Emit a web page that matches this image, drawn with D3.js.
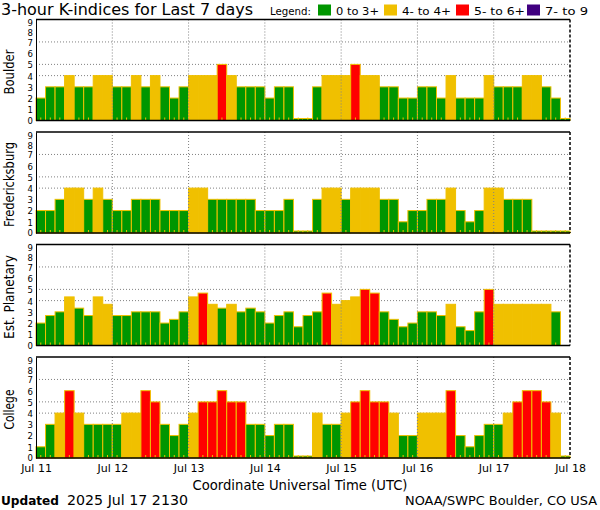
<!DOCTYPE html>
<html>
<head>
<meta charset="utf-8">
<script src="https://cdn.jsdelivr.net/npm/d3@7"></script>
<style>
  body { margin: 0; background: #fff; }
  svg { display: block; }
  text { font-family: 'DejaVu Sans', sans-serif; fill: #000; }
</style>
</head>
<body>
<div id="chart"></div>
<script>
const stations = ['Boulder', 'Fredericksburg', 'Est. Planetary', 'College'];

// K values, 8 per day, Jul 11 00 UTC .. Jul 17 21 UTC (null = no data)
const boulder = [
  2, 3, 3, 4, 3, 3, 4, 4,
  3, 3, 4, 3, 4, 3, 2, 3,
  4, 4, 4, 5, 4, 3, 3, 3,
  2, 3, 3, 0, 0, 3, 4, 4,
  4, 5, 4, 4, 3, 3, 2, 2,
  3, 3, 2, 4, 2, 2, 2, 4,
  3, 3, 3, 4, 4, 3, 2, 0,
];
const fredericksburg = [
  2, 2, 3, 4, 4, 3, 4, 3,
  2, 2, 3, 3, 3, 2, 2, 2,
  4, 4, 3, 3, 3, 3, 3, 2,
  2, 2, 3, 0, 0, 3, 4, 4,
  3, 4, 4, 4, 3, 3, 1, 2,
  2, 3, 3, 4, 2, 1, 2, 4,
  4, 3, 3, 3, 0, 0, 0, 0,
];
const planetary = [
  2, 2.67, 3, 4.33, 3.33, 2.67, 4.33, 3.67,
  2.67, 2.67, 3, 3, 3, 2, 2.33, 3,
  4.33, 4.67, 3.67, 3.33, 3.67, 3, 3.33, 3,
  2, 2.67, 3, 1.67, 2.67, 3, 4.67, 3.67,
  4, 4.33, 5, 4.67, 3, 2.33, 1.67, 2,
  3, 3, 2.67, 3.67, 1.67, 1.33, 3, 5,
  3.67, 3.67, 3.67, 3.67, 3.67, 3.67, 3, null,
];
const college = [
  1, 3, 4, 6, 4, 3, 3, 3,
  3, 4, 4, 6, 5, 3, 2, 3,
  4, 5, 5, 6, 5, 5, 3, 3,
  2, 3, 3, 0, 0, 4, 3, 3,
  4, 5, 6, 5, 5, 4, 2, 2,
  4, 4, 4, 6, 2, 1, 2, 3,
  3, 4, 5, 6, 6, 5, 4, 0,
];
const series = [boulder, fredericksburg, planetary, college];

const dayLabels = ['Jul 11', 'Jul 12', 'Jul 13', 'Jul 14', 'Jul 15', 'Jul 16', 'Jul 17', 'Jul 18'];
const kTicks = [0, 1, 2, 3, 4, 5, 6, 7, 8, 9];
const kGrid = [4, 5, 7];
const legendLabels = ['0 to 3+', '4- to 4+', '5- to 6+', '7- to 9'];
const legendColors = ['#009600', '#f0c000', '#ff0000', '#400080'];

const WIDTH = 600;
const HEIGHT = 510;
const LEFT = 36;
const RIGHT = 570;
const PANEL_TOP = 19.5;
const PANEL_STEP = 112.5;
const PANEL_H = 101;
const BAR_EDGE = '#f0c000';

const start = new Date(Date.UTC(2025, 6, 11));
const end = new Date(Date.UTC(2025, 6, 18));
const days = d3.utcDay.range(start, d3.utcDay.offset(end, 1));

const xScale = d3.scaleUtc().domain([start, end]).range([LEFT, RIGHT]);
const colorScale = d3.scaleThreshold().domain([3.5, 4.5, 6.5]).range(legendColors);

const svg = d3.create('svg').attr('width', WIDTH).attr('height', HEIGHT);

// title + legend
svg.append('text')
  .attr('x', 1).attr('y', 14.5)
  .attr('font-size', 15.5)
  .attr('textLength', 252).attr('lengthAdjust', 'spacingAndGlyphs')
  .text('3-hour K-indices for Last 7 days');

svg.append('text')
  .attr('x', 270).attr('y', 15)
  .attr('font-size', 11)
  .attr('textLength', 41).attr('lengthAdjust', 'spacingAndGlyphs')
  .text('Legend:');

const legendBoxX = [318, 384, 456, 527];
const legendTextW = [43, 49, 51, 43];
legendLabels.forEach((label, i) => {
  svg.append('rect')
    .attr('x', legendBoxX[i]).attr('y', 4.5)
    .attr('width', 13).attr('height', 11)
    .attr('fill', legendColors[i]);
  svg.append('text')
    .attr('x', legendBoxX[i] + 18).attr('y', 15)
    .attr('font-size', 11)
    .attr('textLength', legendTextW[i]).attr('lengthAdjust', 'spacingAndGlyphs')
    .text(label);
});

const labelLen = [45, 85, 84, 40];
const tickDy = (d) => (d === 9 ? '0.72em' : d === 8 ? '0.58em' : d === 0 ? '0.3em' : '0.4em');

series.forEach((values, p) => {
  const top = PANEL_TOP + p * PANEL_STEP;
  const bottom = top + PANEL_H;
  const yScale = d3.scaleLinear().domain([0, 9]).range([bottom, top]);
  const g = svg.append('g');

  // horizontal dotted grid (behind bars)
  g.selectAll('line.hgrid')
    .data(kGrid)
    .join('line')
    .attr('x1', LEFT).attr('x2', RIGHT)
    .attr('y1', (d) => yScale(d)).attr('y2', (d) => yScale(d))
    .attr('stroke', '#808080').attr('stroke-width', 1)
    .attr('stroke-dasharray', '1 2');

  const bars = values
    .map((v, i) => ({ v, t: d3.utcHour.offset(start, i * 3) }))
    .filter((d) => d.v !== null);

  g.selectAll('rect.bar')
    .data(bars)
    .join('rect')
    .attr('class', 'bar')
    .attr('x', (d) => xScale(d.t))
    .attr('width', (d) => xScale(d3.utcHour.offset(d.t, 3)) - xScale(d.t))
    .attr('y', (d) => Math.min(yScale(d.v), bottom - 2))
    .attr('height', (d) => Math.max(bottom - yScale(d.v), 2))
    .attr('fill', (d) => colorScale(d.v))
    .attr('stroke', BAR_EDGE).attr('stroke-width', 1);

  // little marks at the foot of each bar
  g.selectAll('line.mark')
    .data(bars)
    .join('line')
    .attr('x1', (d) => xScale(d3.utcMinute.offset(d.t, 90)))
    .attr('x2', (d) => xScale(d3.utcMinute.offset(d.t, 90)))
    .attr('y1', bottom).attr('y2', bottom - 3)
    .attr('stroke', BAR_EDGE).attr('stroke-width', 1);

  // vertical dotted day lines (over bars)
  g.selectAll('line.vgrid')
    .data(days.slice(1, -1))
    .join('line')
    .attr('x1', (d) => xScale(d)).attr('x2', (d) => xScale(d))
    .attr('y1', top).attr('y2', bottom)
    .attr('stroke', '#808080').attr('stroke-width', 1)
    .attr('stroke-dasharray', '1 2');

  // frame
  g.append('line')
    .attr('x1', LEFT).attr('x2', RIGHT).attr('y1', top).attr('y2', top)
    .attr('stroke', '#000').attr('stroke-width', 1.5);
  g.append('line')
    .attr('x1', LEFT).attr('x2', RIGHT).attr('y1', bottom).attr('y2', bottom)
    .attr('stroke', '#000').attr('stroke-width', 1.5);
  g.append('line')
    .attr('x1', RIGHT).attr('x2', RIGHT).attr('y1', top).attr('y2', bottom)
    .attr('stroke', '#000').attr('stroke-width', 1.5)
    .attr('stroke-dasharray', '3 2');

  const axisLeft = d3.axisLeft(yScale).tickValues(kTicks).tickSize(0).tickPadding(3);
  const yAxis = g.append('g')
    .attr('transform', `translate(${LEFT}, 0)`)
    .call(axisLeft);
  yAxis.select('.domain').attr('stroke', '#000').attr('stroke-width', 1);
  yAxis.selectAll('text')
    .attr('font-family', 'DejaVu Sans Mono, monospace')
    .attr('font-size', 8.5)
    .attr('dy', tickDy);

  svg.append('text')
    .attr('transform', `translate(14, ${(top + bottom) / 2 + 2}) rotate(-90)`)
    .attr('text-anchor', 'middle')
    .attr('font-size', 14)
    .attr('textLength', labelLen[p]).attr('lengthAdjust', 'spacingAndGlyphs')
    .text(stations[p]);
});

// bottom day labels
const lastBottom = PANEL_TOP + 3 * PANEL_STEP + PANEL_H;
const axisBottom = d3.axisBottom(xScale)
  .tickValues(days)
  .tickSize(0)
  .tickPadding(6)
  .tickFormat((d, i) => dayLabels[i]);
const xAxis = svg.append('g')
  .attr('transform', `translate(0, ${lastBottom})`)
  .call(axisBottom);
xAxis.select('.domain').remove();
xAxis.selectAll('text')
  .attr('font-family', 'DejaVu Sans, sans-serif')
  .attr('font-size', 11);

svg.append('text')
  .attr('x', 300).attr('y', 490)
  .attr('text-anchor', 'middle')
  .attr('font-size', 13.5)
  .attr('textLength', 215).attr('lengthAdjust', 'spacingAndGlyphs')
  .text('Coordinate Universal Time (UTC)');

svg.append('text')
  .attr('x', 1).attr('y', 505)
  .attr('font-family', 'DejaVu Serif, serif')
  .attr('font-weight', 'bold')
  .attr('font-size', 13)
  .attr('textLength', 58).attr('lengthAdjust', 'spacingAndGlyphs')
  .text('Updated');
svg.append('text')
  .attr('x', 67).attr('y', 505)
  .attr('font-size', 13.5)
  .attr('textLength', 121).attr('lengthAdjust', 'spacingAndGlyphs')
  .text('2025 Jul 17 2130');

svg.append('text')
  .attr('x', 405).attr('y', 505)
  .attr('font-size', 12.9)
  .attr('textLength', 192).attr('lengthAdjust', 'spacingAndGlyphs')
  .text('NOAA/SWPC Boulder, CO USA');

document.getElementById('chart').appendChild(svg.node());
</script>
</body>
</html>
